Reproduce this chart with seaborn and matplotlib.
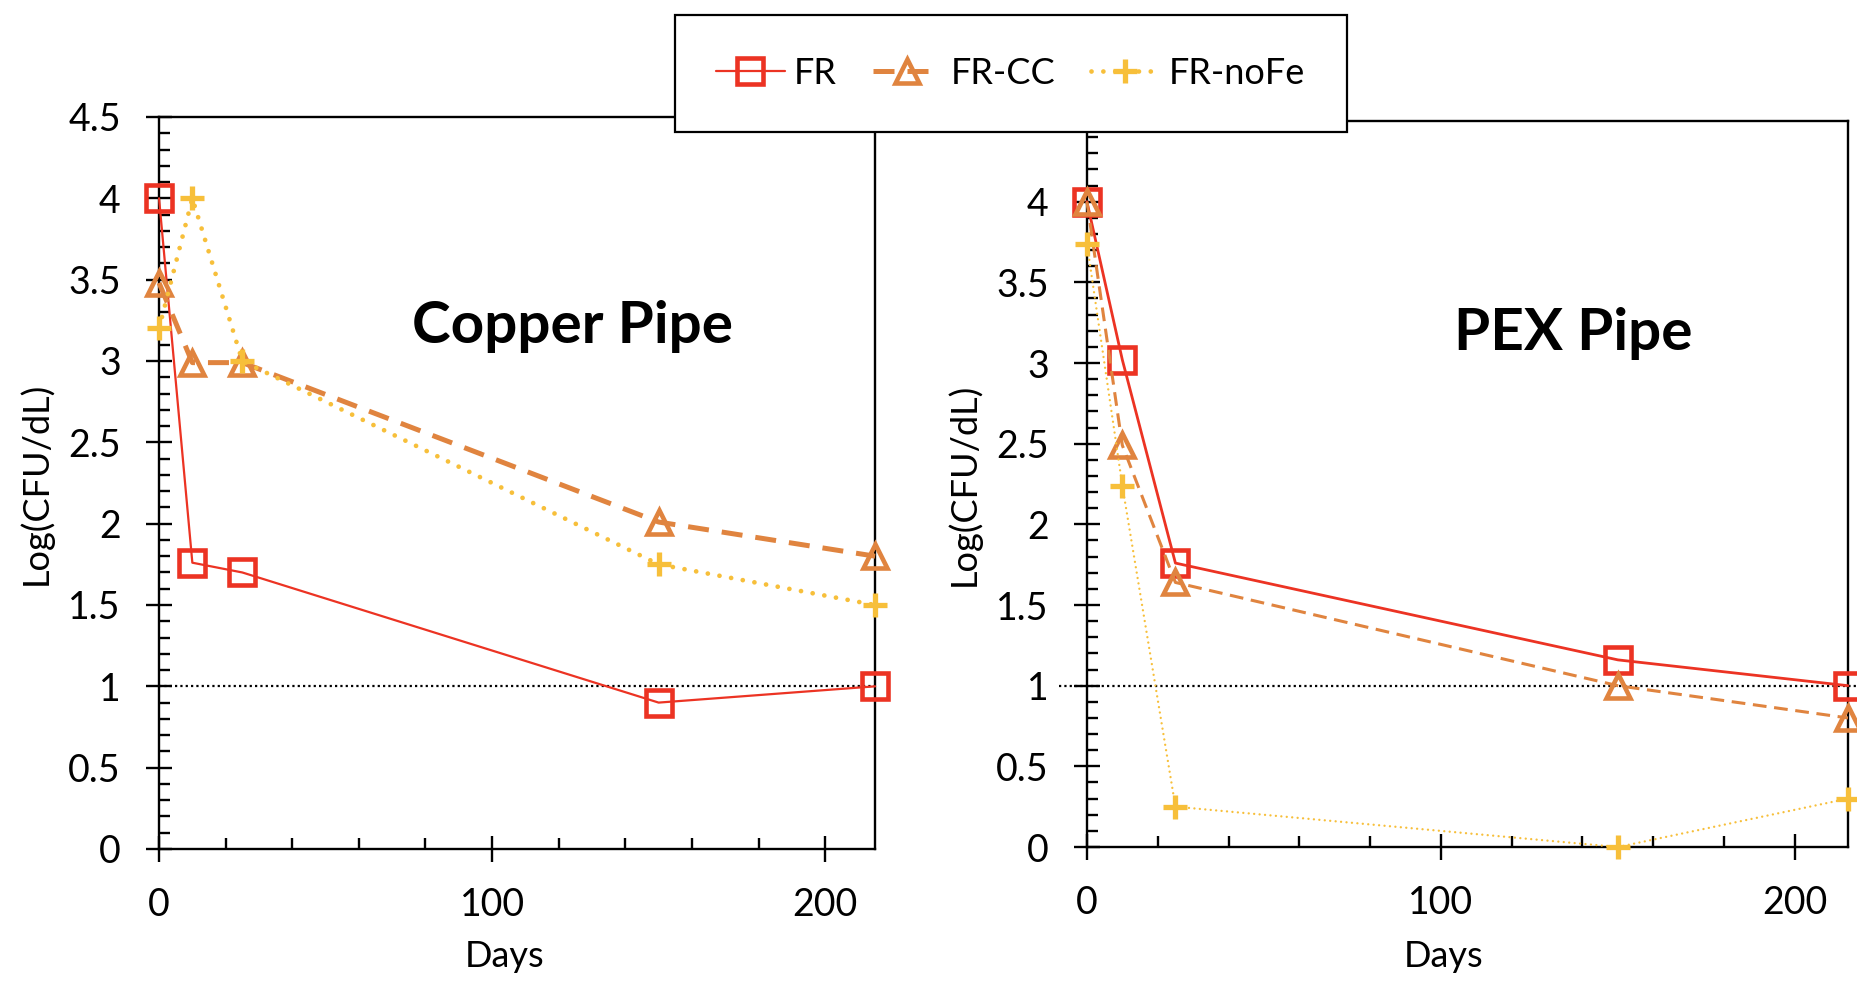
import matplotlib
matplotlib.use("Agg")
import matplotlib.pyplot as plt
from matplotlib.ticker import MultipleLocator
import seaborn as sns

# sampling days (same for both pipes)
days = [0, 10, 25, 150, 215]

# Log(CFU/dL)
copper_fr = [4.0, 1.76, 1.70, 0.90, 1.0]
copper_cc = [3.48, 2.99, 2.99, 2.01, 1.80]
copper_nofe = [3.20, 4.0, 3.0, 1.75, 1.50]

pex_fr = [4.0, 3.02, 1.76, 1.16, 1.0]
pex_cc = [4.0, 2.49, 1.64, 1.0, 0.80]
pex_nofe = [3.74, 2.24, 0.25, 0.0, 0.30]

series_names = ["FR", "FR-CC", "FR-noFe"]
panel_titles = ["Copper Pipe", "PEX Pipe"]
ytick_vals = [0, 0.5, 1, 1.5, 2, 2.5, 3, 3.5, 4, 4.5]
ytick_text = ["0", "0.5", "1", "1.5", "2", "2.5", "3", "3.5", "4", "4.5"]
detect_limit = 1.0

red = "#EC3323"
orange = "#E0843F"
yellow = "#F7BF3A"

sns.set_style("ticks")
plt.rcParams["font.family"] = ["Lato", "DejaVu Sans"]
plt.rcParams["text.color"] = "black"
plt.rcParams["axes.labelcolor"] = "black"
plt.rcParams["xtick.color"] = "black"
plt.rcParams["ytick.color"] = "black"

fig = plt.figure(figsize=(18.58, 9.84), dpi=100)
ax1 = fig.add_axes([0.0856, 0.1372, 0.3854, 0.7439])
ax2 = fig.add_axes([0.5850, 0.1392, 0.4096, 0.7378])

# per panel line styles (copper: heavy dashes/dots, pex: thinner)
styles = {
    ax1: [dict(lw=1.6, ls="-"),
          dict(lw=3.6, ls=(0, (4.2, 2.6))),
          dict(lw=3.4, ls=(0, (0.01, 2.5)), dash_capstyle="round")],
    ax2: [dict(lw=2.0, ls="-"),
          dict(lw=2.2, ls=(0, (4.5, 2.5))),
          dict(lw=1.7, ls=(0, (0.01, 2.3)), dash_capstyle="round")],
}
markers = [dict(marker="s", markersize=19, markeredgewidth=3.3),
           dict(marker="^", markersize=17, markeredgewidth=3.3),
           dict(marker="+", markersize=17, markeredgewidth=3.8)]
colors = [red, orange, yellow]

data = {ax1: [copper_fr, copper_cc, copper_nofe],
        ax2: [pex_fr, pex_cc, pex_nofe]}

for ax, title in zip([ax1, ax2], panel_titles):
    if ax is ax1:
        ax.plot([0, 215], [detect_limit, detect_limit], color="black",
                lw=1.6, ls=(0, (1, 1.4)), zorder=1)
    else:
        ax.plot([-8, 218], [detect_limit, detect_limit], color="black",
                lw=1.6, ls=(0, (1, 1.4)), zorder=1, clip_on=False)
    for vals, name, col, st, mk in zip(data[ax], series_names, colors,
                                       styles[ax], markers):
        kw = dict(st)
        ls = kw.pop("ls")
        sns.lineplot(x=days, y=vals, ax=ax, color=col, linestyle=ls,
                     markeredgecolor=col, markerfacecolor="none",
                     label=name, clip_on=False, zorder=3, **kw, **mk)
    ax.set_xlim(0, 215)
    ax.set_ylim(0, 4.5)
    ax.xaxis.set_major_locator(MultipleLocator(100))
    ax.xaxis.set_minor_locator(MultipleLocator(20))
    ax.yaxis.set_minor_locator(MultipleLocator(0.1))
    ax.set_yticks(ytick_vals)
    ax.set_yticklabels(ytick_text if ax is ax1 else ytick_text[:-1] + [""])
    ax.tick_params(which="major", direction="inout", length=19, width=1.7,
                   labelsize=27, pad=18, color="black")
    ax.tick_params(which="minor", direction="in", length=8, width=1.7,
                   color="black")
    ax.tick_params(axis="both", which="both", top=False, right=False)
    for sp in ax.spines.values():
        sp.set_visible(True)
        sp.set_color("black")
        sp.set_linewidth(1.7)
    ax.set_xlabel("Days", fontsize=26)
    ax.set_ylabel("Log(CFU/dL)", fontsize=26)
    ax.get_legend().remove()

ax1.text(0.577, 0.714, panel_titles[0], transform=ax1.transAxes,
         ha="center", va="center", fontsize=42, fontweight="bold")
ax2.text(0.639, 0.707, panel_titles[1], transform=ax2.transAxes,
         ha="center", va="center", fontsize=42, fontweight="bold")

ax1.yaxis.set_label_coords(-0.148, 0.5)
ax2.yaxis.set_label_coords(-0.139, 0.5)
ax1.xaxis.set_label_coords(0.483, -0.124)
ax2.xaxis.set_label_coords(0.468, -0.128)

handles, labels = ax1.get_lines()[1:4], series_names
leg = fig.legend(handles, labels, loc="center", bbox_to_anchor=(0.5439, 0.9253),
                 ncol=3, fontsize=26, frameon=True, fancybox=False,
                 edgecolor="black", framealpha=1, borderpad=1.15,
                 handlelength=1.9, handletextpad=0.25, columnspacing=1.0)
leg.get_frame().set_linewidth(1.6)
leg.set_zorder(10)

fig.savefig("out.png", dpi=100, facecolor="white")
